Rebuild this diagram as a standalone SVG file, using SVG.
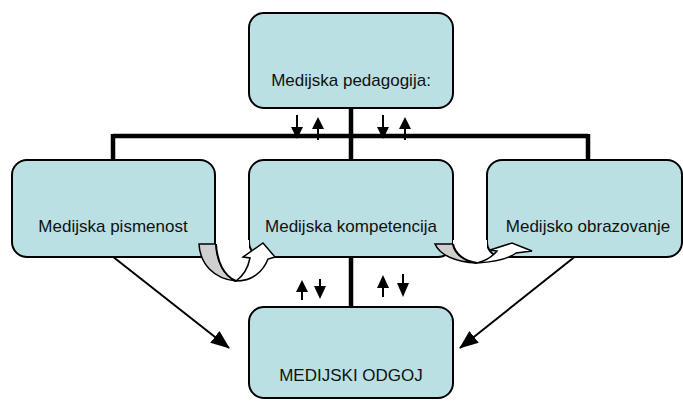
<svg xmlns="http://www.w3.org/2000/svg" width="683" height="401" viewBox="0 0 683 401">
<style>
.box{fill:#bae0e3;stroke:#000;stroke-width:2}
.lbl{font-family:"Liberation Sans",Arial,sans-serif;font-size:17px;fill:#111;text-anchor:middle}
.thick{stroke:#000;stroke-width:4.5;fill:none}
.thin{stroke:#000;stroke-width:2;fill:none}
.tri{fill:#000}
.back{fill:#cfcfcf;stroke:#000;stroke-width:1.5}
.front{fill:#fff;stroke:#000;stroke-width:1.5}
</style>
<defs>
<marker id="ah" markerUnits="userSpaceOnUse" markerWidth="20" markerHeight="16" refX="18" refY="7.5" orient="auto">
<path d="M0,0 L19,7.5 L0,15 Z" fill="#000"/>
</marker>
</defs>
<g id="connectors">
<line class="thick" x1="113" y1="136" x2="588" y2="136"/>
<line class="thick" x1="351" y1="108" x2="351" y2="160"/>
<line class="thick" x1="113" y1="134" x2="113" y2="160"/>
<line class="thick" x1="588" y1="134" x2="588" y2="160"/>
<line class="thick" x1="351" y1="257" x2="351" y2="307"/>
<line class="thin" x1="112" y1="256" x2="229" y2="348" marker-end="url(#ah)"/>
<line class="thin" x1="577" y1="255" x2="460" y2="348" marker-end="url(#ah)"/>
<g id="small-arrows">
<line x1="297" y1="115" x2="297" y2="128" stroke="#000" stroke-width="2"/>
<polygon class="tri" points="291,127 303,127 297,139"/>
<line x1="318" y1="128" x2="318" y2="140" stroke="#000" stroke-width="2"/>
<polygon class="tri" points="312,129 324,129 318,117"/>
<line x1="383" y1="115" x2="383" y2="128" stroke="#000" stroke-width="2"/>
<polygon class="tri" points="377,127 389,127 383,139"/>
<line x1="405" y1="128" x2="405" y2="140" stroke="#000" stroke-width="2"/>
<polygon class="tri" points="399,129 411,129 405,117"/>
<line x1="302" y1="291" x2="302" y2="300" stroke="#000" stroke-width="2"/>
<polygon class="tri" points="296,292 308,292 302,280"/>
<line x1="320" y1="279" x2="320" y2="288" stroke="#000" stroke-width="2"/>
<polygon class="tri" points="314,286 326,286 320,299"/>
<line x1="383" y1="287" x2="383" y2="297" stroke="#000" stroke-width="2"/>
<polygon class="tri" points="377,288 389,288 383,275"/>
<line x1="403" y1="274" x2="403" y2="284" stroke="#000" stroke-width="2"/>
<polygon class="tri" points="397,283 409,283 403,297"/>
</g>
</g>
<g id="n-pedagogija">
<rect class="box" x="249" y="13" width="204" height="95" rx="15"/>
<text class="lbl" x="351" y="86">Medijska pedagogija:</text>
</g>
<g id="n-pismenost">
<rect class="box" x="12" y="160" width="203" height="97" rx="15"/>
<text class="lbl" x="113" y="232">Medijska pismenost</text>
</g>
<g id="n-kompetencija">
<rect class="box" x="249" y="160" width="204" height="97" rx="15"/>
<text class="lbl" x="351" y="232">Medijska kompetencija</text>
</g>
<g id="n-obrazovanje">
<rect class="box" x="487" y="160" width="195" height="97" rx="15"/>
<text class="lbl" x="588" y="232">Medijsko obrazovanje</text>
</g>
<g id="n-odgoj">
<rect class="box" x="249" y="307" width="204" height="91" rx="15"/>
<text class="lbl" x="351" y="381">MEDIJSKI ODGOJ</text>
</g>
<g id="curved-arrow-1">
<path class="back" d="M199,244 L216,244 C217,262 224,276 236,281 C214,279 200,264 199,244 Z"/>
<path d="M216,240 L249,240 L249,250 C249,264 244,275 236,281 C224,276 217,262 216,244 Z" fill="#fff"/>
<path class="thin" d="M216,244 C217,262 224,276 236,281" stroke-width="1.5"/>
<path class="front" d="M236,281 C252,281 263,272 268,259 L275,257 L263,243 L243,257 L250,258 C248,268 243,276 236,281 Z"/>
</g>
<g id="curved-arrow-2">
<path class="back" d="M435,244 L453,244 C455,254 464,261 477,263 C455,262 440,255 435,244 Z"/>
<path d="M453,240 L487,240 L487,250 C487,255 483,260 477,263 C464,261 455,254 453,244 Z" fill="#fff"/>
<path class="thin" d="M453,244 C455,254 464,261 477,263" stroke-width="1.5"/>
<path class="front" d="M477,263 C495,262 508,259 516,253 L532,251 L512,243 L490,250 L497,251 C492,257 485,261 477,263 Z"/>
</g>
</svg>
